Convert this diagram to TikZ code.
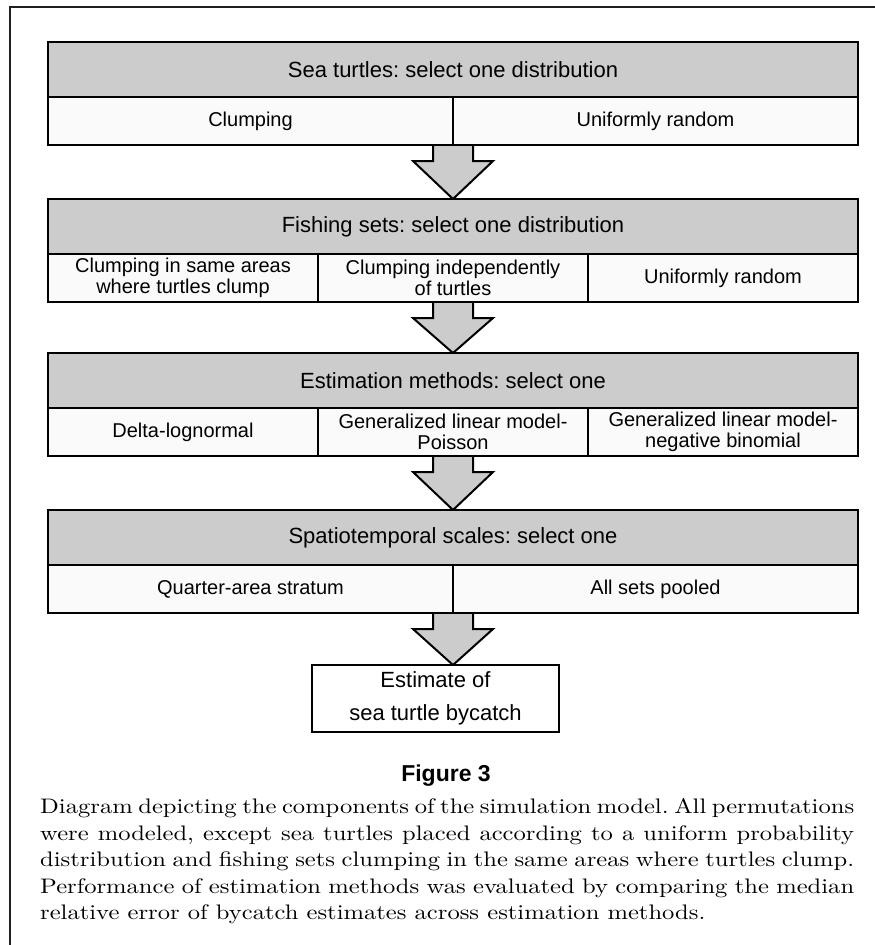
\documentclass[tikz,border=0pt]{standalone}
\usepackage{fontspec}
\setsansfont{Liberation Sans}
\newfontfamily\capfont{lmroman10-regular.otf}[FakeStretch=1.17]
\usetikzlibrary{calc,backgrounds}
\definecolor{hdr}{HTML}{CCCCCC}
\definecolor{cellc}{HTML}{FAFAFA}
\definecolor{framec}{HTML}{231F20}
\hbadness=10000
\frenchspacing
\newcommand{\flowarrow}[2]{%
  \draw[flow] ($(#1)+(-20,0)$) -- ++(0,16) -- ++(-20,0) -- (#2)
    -- ($(#1)+(40,16)$) -- ++(-20,0) -- ++(0,-16);}
\begin{document}
\begin{tikzpicture}[x=1pt,y=-1pt,
  box/.style={draw=black, line width=2.4pt, inner sep=0pt, outer sep=0pt,
    align=center, font=\sffamily\fontsize{20}{21}\selectfont},
  hdrbox/.style={box, fill=hdr, minimum width=810pt, minimum height=55pt,
    font=\sffamily\fontsize{22}{24}\selectfont},
  cellbox/.style={box, fill=cellc, minimum height=48pt, anchor=north west},
  flow/.style={draw=black, line width=2pt, fill=hdr, line join=miter},
  frameline/.style={draw=framec, line width=2pt}
]
\useasboundingbox (0,0) rectangle (875,945);
\begin{scope}[on background layer]
  \fill[white] (0,0) rectangle (875,945);
  \draw[frameline] (10,945) -- (10,7) -- (875,7);
\end{scope}

% Box 1
\node[hdrbox] (h1) at (453,69.5) {Sea turtles: select one distribution};
\node[cellbox, minimum width=405pt] (c11) at (h1.south west) {Clumping};
\node[cellbox, minimum width=405pt] (c12) at (c11.north east) {Uniformly random};

% Box 2
\node[hdrbox] (h2) at (453,226.5) {Fishing sets: select one distribution};
\node[cellbox, minimum width=270pt] (c21) at (h2.south west) {Clumping in same areas\\where turtles clump};
\node[cellbox, minimum width=270pt] (c22) at (c21.north east) {Clumping independently\\of turtles};
\node[cellbox, minimum width=270pt] (c23) at (c22.north east) {Uniformly random};

% Box 3
\node[hdrbox] (h3) at (453,380.5) {Estimation methods: select one};
\node[cellbox, minimum width=270pt] (c31) at (h3.south west) {Delta-lognormal};
\node[cellbox, minimum width=270pt] (c32) at (c31.north east) {Generalized linear model-\\Poisson};
\node[cellbox, minimum width=270pt] (c33) at (c32.north east) {Generalized linear model-\\negative binomial};

% Box 4
\node[hdrbox] (h4) at (453,537.5) {Spatiotemporal scales: select one};
\node[cellbox, minimum width=405pt] (c41) at (h4.south west) {Quarter-area stratum};
\node[cellbox, minimum width=405pt] (c42) at (c41.north east) {All sets pooled};

% Final
\node[box, fill=white, minimum width=247pt, minimum height=67pt,
  font=\sffamily\fontsize{22}{33.5}\selectfont] (fin) at (435.5,698.5)
  {Estimate of\\sea turtle bycatch};

% Arrows
\begin{scope}[on background layer]
  \flowarrow{c11.south east}{h2.north}
  \flowarrow{c22.south}{h3.north}
  \flowarrow{c32.south}{h4.north}
  \flowarrow{c41.south east}{h4.south |- fin.north}
\end{scope}

% Caption
\node[anchor=base, inner sep=0pt, font=\sffamily\bfseries\fontsize{23}{25}\selectfont]
  (figlabel) at (446,781.7) {Figure 3};
\node[anchor=north west, inner sep=0pt, align=left,
  font=\capfont\fontsize{21}{26.5}\selectfont] (caption) at (40,798.7)
  {\hbox to 814pt{Diagram depicting the components of the simulation model. All permutations}\\
   \hbox to 814pt{were modeled, except sea turtles placed according to a uniform probability}\\
   \hbox to 814pt{distribution and fishing sets clumping in the same areas where turtles clump.}\\
   \hbox to 814pt{Performance of estimation methods was evaluated by comparing the median}\\
   relative error of bycatch estimates across estimation methods.};
\end{tikzpicture}
\end{document}
